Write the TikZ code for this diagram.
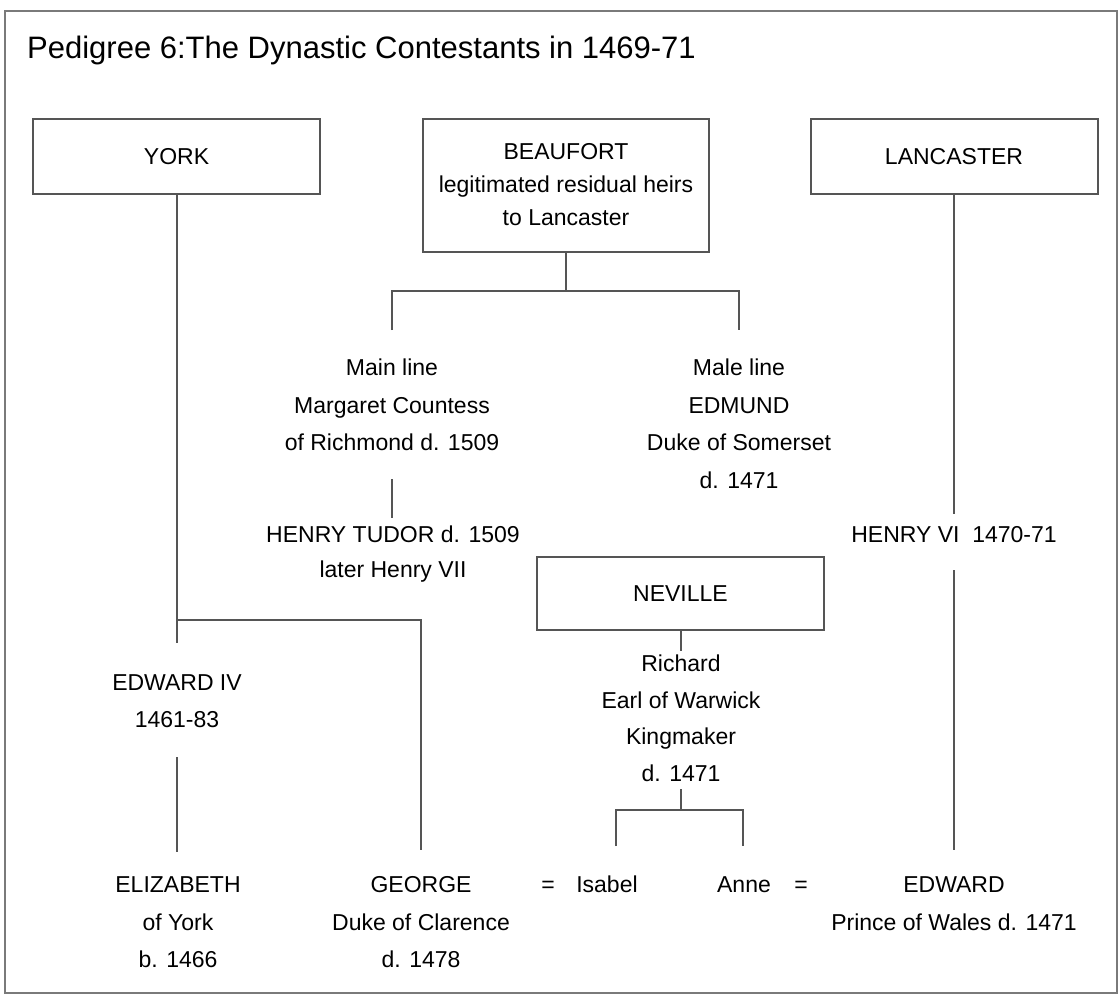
\documentclass[tikz,border=0pt]{standalone}
\usepackage{fontspec}
\setmainfont{Liberation Sans}
\definecolor{linegray}{HTML}{555555}
\definecolor{framegray}{HTML}{7A7A7A}
\newcommand\nf{\fontsize{23}{37.5}\selectfont}
\newcommand\bff{\fontsize{23}{33}\selectfont}
\newcommand\tuf{\fontsize{23}{35}\selectfont}
\newcommand\rif{\fontsize{23}{36.5}\selectfont}
\newcommand\tf{\fontsize{31}{36}\selectfont}
\begin{document}
\begin{tikzpicture}[x=1pt,y=-1pt,
  ln/.style={draw=linegray, line width=2pt},
  box/.style={draw=linegray, line width=2pt, minimum width=287pt, inner sep=0pt, font=\nf, align=center},
  txt/.style={inner sep=0pt, align=center, font=\nf},
]
\useasboundingbox (0,0) rectangle (1120,997);
\draw[framegray, line width=1.5pt] (5,11) rectangle (1117,993);

\node[inner sep=0pt, anchor=base west, font=\tf] (title) at (27,58) {Pedigree 6:The Dynastic Contestants in 1469-71};

% boxes
\node[box, minimum height=75pt] (york) at (176.5,156.5) {YORK};
\node[box, minimum width=286pt, minimum height=133pt, font=\bff] (beaufort) at (566,185.5)
  {\strut BEAUFORT\\\strut legitimated residual heirs\\\strut to Lancaster};
\node[box, minimum height=75pt] (lanc) at (954,156.5) {LANCASTER};
\node[box, minimum height=73pt] (nev) at (680.5,593.5) {NEVILLE};

% people
\node[txt] (main) at (392,405.5) {\strut Main line\\\strut Margaret Countess\\\strut of Richmond d. 1509};
\node[txt] (male) at (739,424.25) {\strut Male line\\\strut EDMUND\\\strut Duke of Somerset\\\strut d. 1471};
\node[txt, font=\tuf] (tudor) at (393,552.5) {\strut HENRY TUDOR d. 1509\\\strut later Henry VII};
\node[txt] (henry6) at (954,535) {\strut HENRY VI\ \ 1470-71};
\node[txt] (edw4) at (177,701.5) {\strut EDWARD IV\\\strut 1461-83};
\node[txt, font=\rif] (richard) at (681,719) {\strut Richard\\\strut Earl of Warwick\\\strut Kingmaker\\\strut d. 1471};
\node[txt] (eliz) at (178,922.5) {\strut ELIZABETH\\\strut of York\\\strut b. 1466};
\node[txt] (george) at (421,922.5) {\strut GEORGE\\\strut Duke of Clarence\\\strut d. 1478};
\node[txt] (eqa) at (548,885) {\strut =};
\node[txt] (isabel) at (607,885) {\strut Isabel};
\node[txt] (anne) at (744,885) {\strut Anne};
\node[txt] (eqb) at (801,885) {\strut =};
\node[txt] (prince) at (954,903.75) {\strut EDWARD\\\strut Prince of Wales d. 1471};

% free ends
\coordinate (yorkend) at (176.5,643);
\coordinate (yj) at (176.5,620);
\coordinate (georgetop) at (421,850);
\coordinate (e4b) at (177,757);
\coordinate (elizt) at (177,852);
\coordinate (bj) at (566,291);
\coordinate (bL) at (392,330);
\coordinate (bR) at (739,330);
\coordinate (m1) at (392,479);
\coordinate (m2) at (392,518);
\coordinate (l1) at (954,514);
\coordinate (l2) at (954,570);
\coordinate (l3) at (954,850);
\coordinate (n1) at (680.5,651);
\coordinate (n2) at (680.5,789);
\coordinate (nj) at (680.5,810);
\coordinate (iL) at (616,846);
\coordinate (iR) at (743,846);

% connectors
\draw[ln] (york.south) -- (yorkend);
\draw[ln] (yj) -| (georgetop);
\draw[ln] (e4b) -- (elizt);
\draw[ln] (beaufort.south) -- (bj);
\draw[ln] (bL) |- (bj) -| (bR);
\draw[ln] (m1) -- (m2);
\draw[ln] (lanc.south) -- (l1);
\draw[ln] (l2) -- (l3);
\draw[ln] (nev.south) -- (n1);
\draw[ln] (n2) -- (nj);
\draw[ln] (iL) |- (nj) -| (iR);
\end{tikzpicture}
\end{document}
